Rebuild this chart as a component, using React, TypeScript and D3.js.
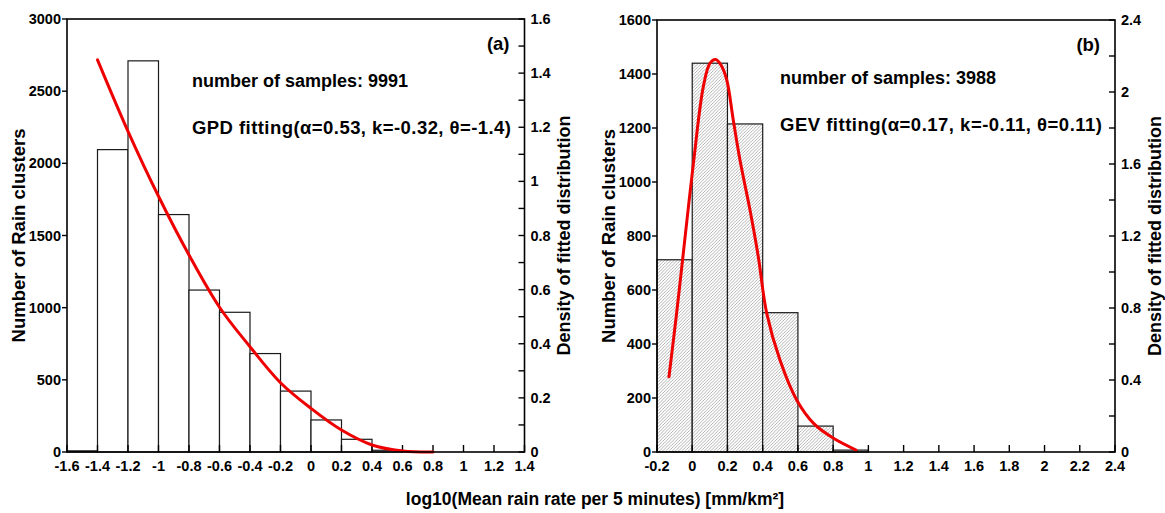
import React from 'react';
import * as d3 from 'd3';

// ---------- data ----------
const binWidth = 0.2;

const leftBinStarts = [-1.6, -1.4, -1.2, -1.0, -0.8, -0.6, -0.4, -0.2, 0, 0.2, 0.4];
const leftCounts = [8, 2095, 2710, 1645, 1122, 968, 682, 422, 222, 88, 12];
const leftCurveX = [-1.4, -1.2, -1.0, -0.8, -0.6, -0.4, -0.2, 0, 0.2, 0.4, 0.6, 0.8];
const leftCurveY = [1.449, 1.185, 0.945, 0.728, 0.535, 0.389, 0.256, 0.161, 0.081, 0.026, 0.004, 0];
const leftXTicks = [-1.6, -1.4, -1.2, -1, -0.8, -0.6, -0.4, -0.2, 0, 0.2, 0.4, 0.6, 0.8, 1, 1.2, 1.4];
const leftCountTicks = [0, 500, 1000, 1500, 2000, 2500, 3000];
const leftDensityTicks = [0, 0.1, 0.2, 0.3, 0.4, 0.5, 0.6, 0.7, 0.8, 0.9, 1, 1.1, 1.2, 1.3, 1.4, 1.5, 1.6];
const leftDensityLabels = [0, 0.2, 0.4, 0.6, 0.8, 1, 1.2, 1.4, 1.6];

const rightBinStarts = [-0.2, 0, 0.2, 0.4, 0.6, 0.8];
const rightCounts = [712, 1440, 1215, 516, 96, 7];
const rightCurveX = [-0.132, -0.09, -0.05, 0.007, 0.063, 0.101, 0.133, 0.163, 0.196, 0.233, 0.271, 0.328, 0.375, 0.423, 0.498, 0.593, 0.689, 0.802, 0.93];
const rightCurveY = [0.418, 0.76, 1.11, 1.606, 2.03, 2.16, 2.18, 2.15, 2.067, 1.844, 1.622, 1.344, 1.085, 0.77, 0.511, 0.289, 0.159, 0.076, 0.011];
const rightXTicks = [-0.2, 0, 0.2, 0.4, 0.6, 0.8, 1, 1.2, 1.4, 1.6, 1.8, 2, 2.2, 2.4];
const rightCountTicks = [0, 200, 400, 600, 800, 1000, 1200, 1400, 1600];
const rightDensityTicks = [0, 0.2, 0.4, 0.6, 0.8, 1, 1.2, 1.4, 1.6, 1.8, 2, 2.2, 2.4];
const rightDensityLabels = [0, 0.4, 0.8, 1.2, 1.6, 2, 2.4];

const FONT = "'Liberation Sans', Arial, Helvetica, sans-serif";
const fmt = (v: number) => String(+v.toFixed(2));

type PanelProps = {
  x0: number; x1: number; yTop: number; yBot: number;
  xDomain: [number, number]; countMax: number; densMax: number;
  binStarts: number[]; counts: number[]; curveX: number[]; curveY: number[];
  xTicks: number[]; countTicks: number[]; densTicks: number[]; densLabels: number[];
  fill: string; tag: string; line1: string; line2: string;
  textX: number; base1: number; base2: number; line2Len: number;
  leftTitleX: number; rightTitleX: number;
};

function Panel(p: PanelProps) {
  const x = d3.scaleLinear().domain(p.xDomain).range([p.x0, p.x1]);
  const yc = d3.scaleLinear().domain([0, p.countMax]).range([p.yBot, p.yTop]);
  const yd = d3.scaleLinear().domain([0, p.densMax]).range([p.yBot, p.yTop]);
  const pts = p.curveX.map((v, i) => [v, p.curveY[i]] as [number, number]);
  const line = d3.line<[number, number]>()
    .x(d => x(d[0]))
    .y(d => yd(d[1]))
    .curve(d3.curveCatmullRom.alpha(0.5));
  const midY = (p.yTop + p.yBot) / 2;
  return (
    <g>
      {/* bars */}
      {p.binStarts.map((b, i) => (
        <rect key={'b' + i}
          x={x(b)} y={yc(p.counts[i])}
          width={x(b + binWidth) - x(b)} height={p.yBot - yc(p.counts[i])}
          fill={p.fill} stroke="#1a1a1a" strokeWidth={1.2} />
      ))}
      {/* x ticks (inside) */}
      {p.xTicks.map((t, i) => (
        <g key={'xt' + i}>
          <line x1={x(t)} x2={x(t)} y1={p.yBot} y2={p.yBot - 7} stroke="#000" strokeWidth={1.4} />
          <text x={x(t)} y={p.yBot + 19} textAnchor="middle" fontSize={14.5} fontWeight="bold" fontFamily={FONT}>{fmt(t)}</text>
        </g>
      ))}
      {/* left count ticks (outside) */}
      {p.countTicks.map((t, i) => (
        <g key={'ct' + i}>
          <line x1={p.x0} x2={p.x0 - 5} y1={yc(t)} y2={yc(t)} stroke="#000" strokeWidth={1.4} />
          <text x={p.x0 - 6} y={yc(t) + 5} textAnchor="end" fontSize={14.5} fontWeight="bold" fontFamily={FONT}>{fmt(t)}</text>
        </g>
      ))}
      {/* right density ticks (inside) */}
      {p.densTicks.map((t, i) => (
        <line key={'dt' + i} x1={p.x1} x2={p.x1 - 6} y1={yd(t)} y2={yd(t)} stroke="#000" strokeWidth={1.4} />
      ))}
      {p.densLabels.map((t, i) => (
        <text key={'dl' + i} x={p.x1 + 6} y={yd(t) + 5} textAnchor="start" fontSize={14.5} fontWeight="bold" fontFamily={FONT}>{fmt(t)}</text>
      ))}
      {/* fitted curve */}
      <path d={line(pts) || ''} fill="none" stroke="#ee0000" strokeWidth={3} strokeLinecap="round" />
      {/* frame */}
      <rect x={p.x0} y={p.yTop} width={p.x1 - p.x0} height={p.yBot - p.yTop} fill="none" stroke="#000" strokeWidth={1.6} />
      {/* annotations */}
      <text x={p.x1 - 15} y={p.yTop + 31} textAnchor="end" fontSize={18.5} fontWeight="bold" fontFamily={FONT}>{p.tag}</text>
      <text x={p.textX} y={p.base1} fontSize={18} fontWeight="bold" fontFamily={FONT}>{p.line1}</text>
      <text x={p.textX} y={p.base2} fontSize={18.5} fontWeight="bold" fontFamily={FONT}
        textLength={p.line2Len} lengthAdjust="spacing">{p.line2}</text>
      {/* axis titles */}
      <text transform={`translate(${p.leftTitleX},${midY}) rotate(-90)`} textAnchor="middle" fontSize={18.5} fontWeight="bold" fontFamily={FONT}>Number of Rain clusters</text>
      <text transform={`translate(${p.rightTitleX},${midY}) rotate(-90)`} textAnchor="middle" fontSize={18} fontWeight="bold" fontFamily={FONT}>Density of fitted distribution</text>
    </g>
  );
}

export default function App() {
  return (
    <svg width={1165} height={513} style={{ position: 'absolute', left: 0, top: 0, background: '#fff' }}>
      <defs>
        <pattern id="hatch" patternUnits="userSpaceOnUse" width={3.2} height={3.2}>
          <rect width={3.2} height={3.2} fill="#fff" />
          <path d="M-0.8,0.8 L0.8,-0.8 M0,3.2 L3.2,0 M2.4,4 L4,2.4" stroke="#9a9a9a" strokeWidth={0.75} />
        </pattern>
      </defs>
      <rect width={1165} height={513} fill="#fff" />
      <Panel x0={67} x1={524.5} yTop={19} yBot={452}
        xDomain={[-1.6, 1.4]} countMax={3000} densMax={1.6}
        binStarts={leftBinStarts} counts={leftCounts} curveX={leftCurveX} curveY={leftCurveY}
        xTicks={leftXTicks} countTicks={leftCountTicks} densTicks={leftDensityTicks} densLabels={leftDensityLabels}
        fill="#fff" tag="(a)" line1="number of samples: 9991" line2="GPD fitting(α=0.53, k=-0.32, θ=-1.4)"
        textX={192} base1={87} base2={134} line2Len={319} leftTitleX={24.5} rightTitleX={570} />
      <Panel x0={657} x1={1115} yTop={20} yBot={452}
        xDomain={[-0.2, 2.4]} countMax={1600} densMax={2.4}
        binStarts={rightBinStarts} counts={rightCounts} curveX={rightCurveX} curveY={rightCurveY}
        xTicks={rightXTicks} countTicks={rightCountTicks} densTicks={rightDensityTicks} densLabels={rightDensityLabels}
        fill="url(#hatch)" tag="(b)" line1="number of samples: 3988" line2="GEV fitting(α=0.17, k=-0.11, θ=0.11)"
        textX={780} base1={84} base2={131} line2Len={322} leftTitleX={615} rightTitleX={1161} />
      <text x={595} y={505} textAnchor="middle" fontSize={17.5} fontWeight="bold" fontFamily={FONT}>log10(Mean rain rate per 5 minutes) [mm/km²]</text>
    </svg>
  );
}
